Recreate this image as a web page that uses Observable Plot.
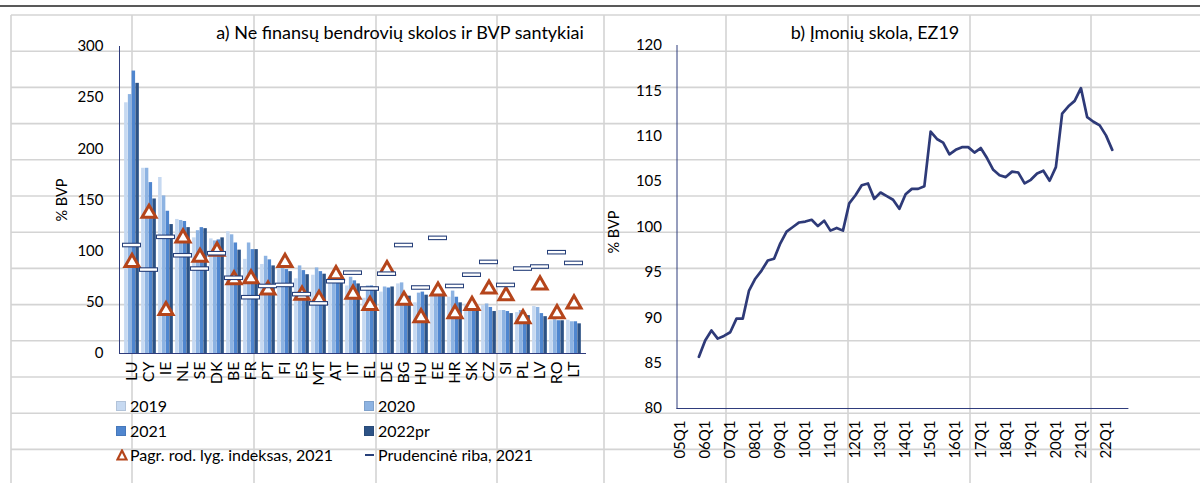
<!DOCTYPE html>
<html><head><meta charset="utf-8">
<script src="https://cdn.jsdelivr.net/npm/d3@7"></script>
<script src="https://cdn.jsdelivr.net/npm/@observablehq/plot@0.6"></script>
<style>
body{margin:0;background:#fff;}
#wrap{position:relative;width:1200px;height:483px;overflow:hidden;font-family:Lato,"Open Sans",sans-serif;color:#000;}
#wrap > svg{position:absolute;left:0;top:0;}
#wrap svg text{fill:#000;}
.lbl{position:absolute;white-space:nowrap;font-size:15px;line-height:1;}
.ctr{transform:translate(-50%,-50%);}
.rot{transform:translate(-50%,-50%) rotate(-90deg);}
.sw{position:absolute;width:10px;height:10px;box-sizing:border-box;}
</style></head><body><div id="wrap"></div>
<script>
// ---------- data: panel a ----------
const countries = ["LU","CY","IE","NL","SE","DK","BE","FR","PT","FI","ES","MT","AT","IT","EL","DE","BG","HU","EE","HR","SK","CZ","SI","PL","LV","RO","LT"];
const v2019 = [245,181,172,131,113,112,119,92,87,83,73,76.5,71,66,54,60,68,49.5,56,55,48,47,42,40,46,32,32.5];
const v2020 = [253,181,154,130,120,110,116,108,95,84,85.6,83.6,72,74.5,66,65,69,59,57,61,48,48.4,42,42,45,33,31];
const v2021 = [276,167,139,129,123,111,108,101.5,91.5,82,81,80,72,71,66,64,57,60,57,55,44,45,41,40,39,32,31];
const v2022 = [264,151,126,123,122,113,101,101.5,85.6,80,77,77.5,71,68,65,65,56,57,56,49.5,44,41,39,37,36,32,29];
const indexVals = [89,137,42,113,94,100,72,73,62,89,57,53,77,58,47,82,52,35,61,39,47,63,56.5,34,67,39,48.5];
const prudVals = [106,82,114,96,83,98,74,55,66,67,58,49,70.6,79,63.5,78,106,64.5,113,66,77,89.5,67,83,85,99,88.5];
const seriesNames = ["2019","2020","2021","2022pr"];
const yTicksA = [0,50,100,150,200,250,300];

// ---------- data: panel b ----------
const qYears = ["05","06","07","08","09","10","11","12","13","14","15","16","17","18","19","20","21","22"];
const quarters = qYears.flatMap(y => ["Q1","Q2","Q3","Q4"].map(q => y + q));
const debtStart = "05Q4";
const debtVals = [85.7,87.5,88.6,87.7,88.0,88.4,89.9,89.9,93.0,94.3,95.2,96.3,96.5,98.2,99.5,100.0,100.5,100.6,100.8,100.1,
  100.7,99.6,99.9,99.6,102.6,103.5,104.6,104.8,103.1,103.8,103.4,103.0,102.0,103.6,104.2,104.2,104.5,110.5,109.7,109.3,
  108.0,108.5,108.8,108.8,108.2,108.7,107.6,106.3,105.7,105.5,106.1,106.0,104.8,105.2,105.9,106.2,105.1,106.6,112.5,113.3,
  113.9,115.3,112.1,111.6,111.2,110.1,108.5];
const yTicksB = [80,85,90,95,100,105,110,115,120];

// ---------- styling ----------
const FONT = "Lato, 'Open Sans', sans-serif";
const barColors = ["#c6d9f1","#8db3e2","#4f86cf","#2c5285"];
const triColor = "#b5451b";
const navy = "#2f3c7c";
const wrap = document.getElementById("wrap");

// spreadsheet grid background
const gridCols = [11,132,254,376,497,604,726,848,970,1091];
const gridRows = d3.range(0,13).map(i => 15 + i*36.2);
const g = d3.create("svg").attr("width",1200).attr("height",483);
g.append("line").attr("x1",0).attr("x2",1200).attr("y1",6).attr("y2",6).attr("stroke","#222").attr("stroke-width",1.5);
gridRows.forEach(y => g.append("line").attr("x1",11).attr("x2",1200).attr("y1",y).attr("y2",y).attr("stroke","#d4d4d4").attr("stroke-width",1.6));
gridCols.forEach(x => g.append("line").attr("x1",x).attr("x2",x).attr("y1",15).attr("y2",483).attr("stroke","#d4d4d4").attr("stroke-width",1.6));
wrap.appendChild(g.node());

// ---------- panel a ----------
const rangeA = [119, 585];
const step = (rangeA[1]-rangeA[0]) / countries.length;
const off = 1.1, bw = 3.75;
const barData = [v2019, v2020, v2021, v2022];
const rowsA = countries.map((c,i) => ({c, idx: indexVals[i], prud: prudVals[i]}));
const barMarks = barData.map((vals,k) => Plot.barY(countries.map((c,i) => ({c, v: vals[i]})), {
  x: "c", y: "v", fill: barColors[k],
  insetLeft: off + k*bw, insetRight: step - off - (k+1)*bw
}));
const left = Plot.plot({
  width: 600, height: 483,
  marginLeft: rangeA[0], marginRight: 600 - rangeA[1], marginTop: 46, marginBottom: 130,
  style: {background: "transparent", fontFamily: FONT, fontSize: "15px", color: navy, overflow: "visible"},
  x: {domain: countries, padding: 0, tickSize: 0, tickPadding: 8, tickRotate: -90, label: null, line: true},
  y: {domain: [0,300], ticks: yTicksA, tickSize: 0, tickPadding: 16, label: null, line: true},
  marks: [
    ...barMarks,
    Plot.dot(rowsA, {x: "c", y: "idx", symbol: "triangle", r: 5.2, stroke: triColor, strokeWidth: 3, fill: "white"}),
    Plot.tickY(rowsA, {x: "c", y: "prud", stroke: "#27407a", strokeWidth: 4.6, insetLeft: -1, insetRight: -1}),
    Plot.tickY(rowsA, {x: "c", y: "prud", stroke: "white", strokeWidth: 2.4})
  ]
});
d3.select(left).selectAll('[aria-label="x-axis tick label"] text, [aria-label="x-axis"] text').style("font-size","16px");
wrap.appendChild(left);

// ---------- panel b ----------
const s0 = quarters.indexOf(debtStart);
const debt = debtVals.map((v,k) => ({q: quarters[s0+k], v}));
const q1Ticks = quarters.map((q,i) => i).filter(i => quarters[i].endsWith("Q1"));
const right = Plot.plot({
  width: 600, height: 483,
  marginLeft: 76.5, marginRight: 72.6, marginTop: 45, marginBottom: 75,
  style: {background: "transparent", fontFamily: FONT, fontSize: "15px", color: navy, overflow: "visible"},
  x: {domain: [-0.5, quarters.length - 0.5], ticks: q1Ticks, tickFormat: i => quarters[i], tickRotate: -90, tickSize: 0, tickPadding: 12, label: null, line: true},
  y: {domain: [80,120], ticks: yTicksB, tickSize: 0, tickPadding: 15, label: null, line: true},
  marks: [
    Plot.line(debt, {x: d => quarters.indexOf(d.q), y: "v", stroke: "#2e3a78", strokeWidth: 2.7, strokeLinejoin: "round"})
  ]
});
right.style.left = "600px";
wrap.appendChild(right);

// ---------- texts ----------
function lbl(text, x, y, cls, size) {
  const d = document.createElement("div");
  d.className = "lbl " + cls; d.textContent = text;
  d.style.left = x + "px"; d.style.top = y + "px";
  if (size) d.style.fontSize = size + "px";
  wrap.appendChild(d); return d;
}
lbl("a) Ne finansų bendrovių skolos ir BVP santykiai", 400, 32, "ctr", 18);
lbl("b) Įmonių skola, EZ19", 875, 32, "ctr", 18);
lbl("% BVP", 62, 200, "rot", 14.5);
lbl("% BVP", 614, 232, "rot", 14.5);

// legend
const legendItems = [
  {name: seriesNames[0], kind: "sw", color: barColors[0], x: 116, y: 406},
  {name: seriesNames[1], kind: "sw", color: barColors[1], x: 364, y: 406},
  {name: seriesNames[2], kind: "sw", color: barColors[2], x: 116, y: 431},
  {name: seriesNames[3], kind: "sw", color: barColors[3], x: 364, y: 431},
  {name: "Pagr. rod. lyg. indeksas, 2021", kind: "tri", x: 116, y: 455},
  {name: "Prudencinė riba, 2021", kind: "dash", x: 364, y: 455}
];
legendItems.forEach(it => {
  if (it.kind === "sw") {
    const s = document.createElement("div");
    s.className = "sw"; s.style.left = it.x + "px"; s.style.top = (it.y - 5) + "px";
    s.style.background = it.color; s.style.border = "1px solid " + d3.color(it.color).darker(0.3);
    wrap.appendChild(s);
  } else if (it.kind === "tri") {
    const s = d3.create("svg").attr("width",12).attr("height",12).style("left", it.x + "px").style("top", (it.y - 6) + "px");
    s.append("path").attr("d","M6,1.5 L10.5,10.5 L1.5,10.5 Z").attr("fill","white").attr("stroke",triColor).attr("stroke-width",2.2);
    wrap.appendChild(s.node());
  } else {
    const s = document.createElement("div");
    s.className = "sw"; s.style.left = (it.x + 1) + "px"; s.style.top = (it.y - 1) + "px";
    s.style.width = "9px"; s.style.height = "2px"; s.style.background = "#27407a";
    wrap.appendChild(s);
  }
  lbl(it.name, it.x + 14, it.y, "", 16).style.transform = "translateY(-50%)";
});
</script>
</body></html>
